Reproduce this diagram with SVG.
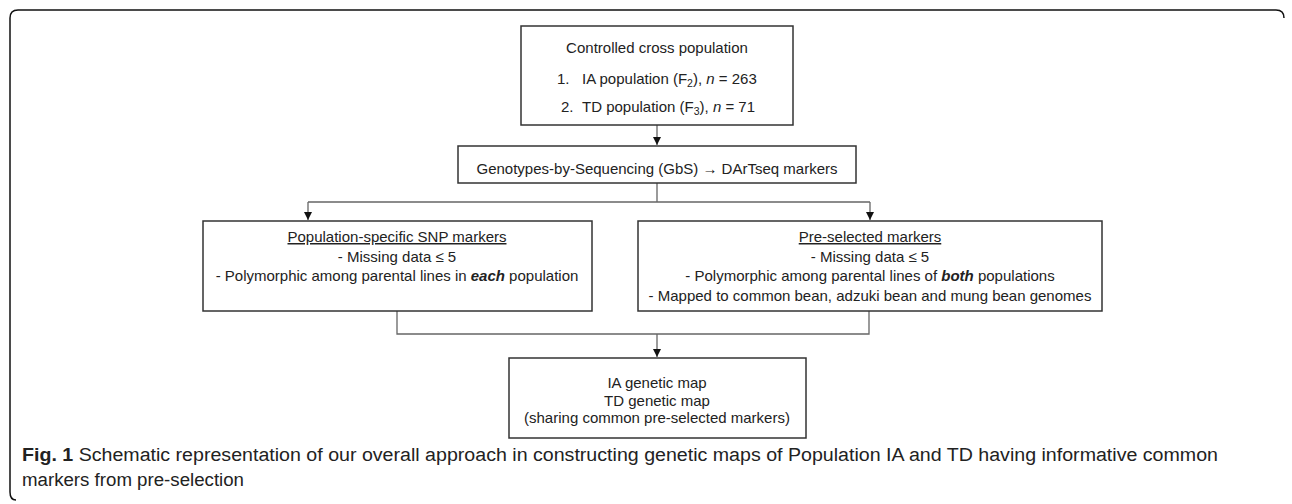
<svg xmlns="http://www.w3.org/2000/svg" width="1292" height="504" viewBox="0 0 1292 504">
<style>
.box{fill:#fff;stroke:#333;stroke-width:1.5}
.t{font-family:"Liberation Sans",Arial,sans-serif;font-size:15px;fill:#222;text-anchor:middle}
.tl{font-family:"Liberation Sans",Arial,sans-serif;font-size:15px;fill:#222}
.con{fill:none;stroke:#666;stroke-width:1.3}
.cap{font-family:"Liberation Sans",Arial,sans-serif;font-size:18px;fill:#222}
.frame{fill:none;stroke:#111;stroke-width:1.5}
</style>
<defs>
<marker id="ah" markerWidth="8" markerHeight="8" refX="8" refY="4" orient="auto" markerUnits="userSpaceOnUse">
<path d="M0,0 L8,4 L0,8 Z" fill="#111"/>
</marker>
</defs>
<path class="frame" d="M16,500 Q10,500 10,492 L10,18 Q10,10 18,10 L1276,10 Q1284,10 1284,18"/>
<g id="connectors">
<line class="con" x1="657" y1="125" x2="657" y2="145" marker-end="url(#ah)"/>
<path class="con" d="M657,183 L657,202 M308,202 L870,202"/>
<line class="con" x1="308" y1="202" x2="308" y2="220" marker-end="url(#ah)"/>
<line class="con" x1="870" y1="202" x2="870" y2="220" marker-end="url(#ah)"/>
<path class="con" d="M397,311 L397,334 L869,334 L869,311"/>
<line class="con" x1="657" y1="334" x2="657" y2="357" marker-end="url(#ah)"/>
</g>
<g id="n1">
<rect class="box" x="521" y="26" width="272" height="99"/>
<text class="t" x="657" y="53">Controlled cross population</text>
<text class="tl" x="557" y="84">1.</text>
<text class="tl" x="582" y="84">IA population (F<tspan font-size="10.5" dy="3">2</tspan><tspan dy="-3">), </tspan><tspan font-style="italic">n</tspan> = 263</text>
<text class="tl" x="561" y="112">2.</text>
<text class="tl" x="582" y="112">TD population (F<tspan font-size="10.5" dy="3">3</tspan><tspan dy="-3">), </tspan><tspan font-style="italic">n</tspan> = 71</text>
</g>
<g id="n2">
<rect class="box" x="458" y="146" width="398" height="37"/>
<text class="t" x="657" y="174">Genotypes-by-Sequencing (GbS) → DArTseq markers</text>
</g>
<g id="n3">
<rect class="box" x="203" y="221" width="389" height="90"/>
<text class="t" x="397" y="242" text-decoration="underline">Population-specific SNP markers</text>
<text class="t" x="397" y="262">- Missing data ≤ 5</text>
<text class="t" x="397" y="281">- Polymorphic among parental lines in <tspan font-weight="bold" font-style="italic">each</tspan> population</text>
</g>
<g id="n4">
<rect class="box" x="638" y="221" width="464" height="90"/>
<text class="t" x="870" y="242" text-decoration="underline">Pre-selected markers</text>
<text class="t" x="870" y="262">- Missing data ≤ 5</text>
<text class="t" x="870" y="281">- Polymorphic among parental lines of <tspan font-weight="bold" font-style="italic">both</tspan> populations</text>
<text class="t" x="870" y="301">- Mapped to common bean, adzuki bean and mung bean genomes</text>
</g>
<g id="n5">
<rect class="box" x="509" y="358" width="297" height="80"/>
<text class="t" x="657" y="388">IA genetic map</text>
<text class="t" x="657" y="406">TD genetic map</text>
<text class="t" x="657" y="423">(sharing common pre-selected markers)</text>
</g>
<g id="caption">
<text class="cap" x="22" y="461" textLength="1196" lengthAdjust="spacingAndGlyphs"><tspan font-weight="bold">Fig. 1</tspan> Schematic representation of our overall approach in constructing genetic maps of Population IA and TD having informative common</text>
<text class="cap" x="22" y="486" textLength="222" lengthAdjust="spacingAndGlyphs">markers from pre-selection</text>
</g>
</svg>
